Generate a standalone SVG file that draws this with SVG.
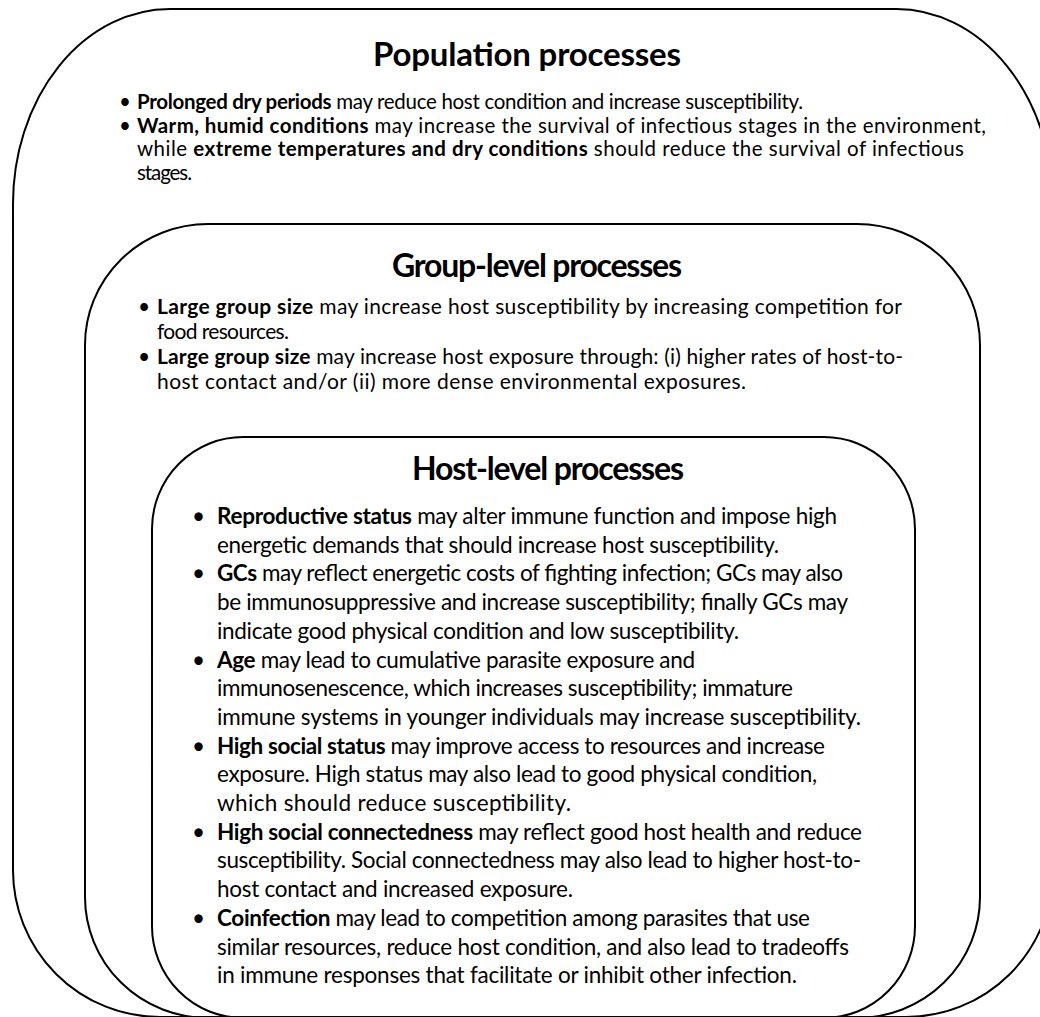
<svg xmlns="http://www.w3.org/2000/svg" width="1040" height="1017" viewBox="0 0 1040 1017">
<style>
.box{fill:none;stroke:#000;stroke-width:2}
text{font-family:Lato,"Liberation Sans",sans-serif;fill:#000}
.t{font-weight:700;text-anchor:middle}
.b{font-weight:700}
.pop{font-size:20.5px}
.grp{font-size:21px}
.hst{font-size:22.5px}
</style>
<rect x="0" y="0" width="1040" height="1017" fill="#fff"/>
<g id="population">
<path class="box" d="M170,9 H896 A157 195 0 0 1 1053,204 V870 A147 147 0 0 1 906,1017 H160 A147 147 0 0 1 13,870 V204 A157 195 0 0 1 170,9 Z"/>
<text class="t" x="527" y="66" font-size="33" textLength="308">Population processes</text>
<g class="pop">
<text x="119" y="109">•</text>
<text x="137" y="109" textLength="666"><tspan class="b">Prolonged dry periods</tspan> may reduce host condition and increase susceptibility.</text>
<text x="119" y="132.5">•</text>
<text x="137" y="132.5" textLength="849"><tspan class="b">Warm, humid conditions</tspan> may increase the survival of infectious stages in the environment,</text>
<text x="137" y="156" textLength="827">while <tspan class="b">extreme temperatures and dry conditions</tspan> should reduce the survival of infectious</text>
<text x="137" y="179.5" textLength="55">stages.</text>
</g>
</g>
<g id="group-level">
<rect class="box" x="85" y="224" width="895" height="794" rx="123" ry="121"/>
<text class="t" x="537" y="277" font-size="32" textLength="290">Group-level processes</text>
<g class="grp">
<text x="138" y="314">•</text>
<text x="157" y="314" textLength="745"><tspan class="b">Large group size</tspan> may increase host susceptibility by increasing competition for</text>
<text x="157" y="339" textLength="132">food resources.</text>
<text x="138" y="364">•</text>
<text x="157" y="364" textLength="746"><tspan class="b">Large group size</tspan> may increase host exposure through: (i) higher rates of host-to-</text>
<text x="157" y="389" textLength="589">host contact and/or (ii) more dense environmental exposures.</text>
</g>
</g>
<g id="host-level">
<rect class="box" x="152" y="437" width="763" height="581" rx="91" ry="92"/>
<text class="t" x="548" y="480" font-size="32" textLength="272">Host-level processes</text>
<g class="hst">
<text x="192" y="524">•</text>
<text x="217" y="524" textLength="620"><tspan class="b">Reproductive status</tspan> may alter immune function and impose high</text>
<text x="217" y="552.7" textLength="562">energetic demands that should increase host susceptibility.</text>
<text x="192" y="581.4">•</text>
<text x="217" y="581.4" textLength="626"><tspan class="b">GCs</tspan> may reflect energetic costs of fighting infection; GCs may also</text>
<text x="217" y="610.1" textLength="631">be immunosuppressive and increase susceptibility; finally GCs may</text>
<text x="217" y="638.8" textLength="522">indicate good physical condition and low susceptibility.</text>
<text x="192" y="667.5">•</text>
<text x="217" y="667.5" textLength="478"><tspan class="b">Age</tspan> may lead to cumulative parasite exposure and</text>
<text x="217" y="696.2" textLength="576">immunosenescence, which increases susceptibility; immature</text>
<text x="217" y="724.9" textLength="644">immune systems in younger individuals may increase susceptibility.</text>
<text x="192" y="753.6">•</text>
<text x="217" y="753.6" textLength="608"><tspan class="b">High social status</tspan> may improve access to resources and increase</text>
<text x="217" y="782.3" textLength="600">exposure. High status may also lead to good physical condition,</text>
<text x="217" y="811" textLength="354">which should reduce susceptibility.</text>
<text x="192" y="839.7">•</text>
<text x="217" y="839.7" textLength="645"><tspan class="b">High social connectedness</tspan> may reflect good host health and reduce</text>
<text x="217" y="868.4" textLength="644">susceptibility. Social connectedness may also lead to higher host-to-</text>
<text x="217" y="897.1" textLength="356">host contact and increased exposure.</text>
<text x="192" y="925.8">•</text>
<text x="217" y="925.8" textLength="593"><tspan class="b">Coinfection</tspan> may lead to competition among parasites that use</text>
<text x="217" y="954.5" textLength="632">similar resources, reduce host condition, and also lead to tradeoffs</text>
<text x="217" y="983.2" textLength="580">in immune responses that facilitate or inhibit other infection.</text>
</g>
</g>
</svg>
